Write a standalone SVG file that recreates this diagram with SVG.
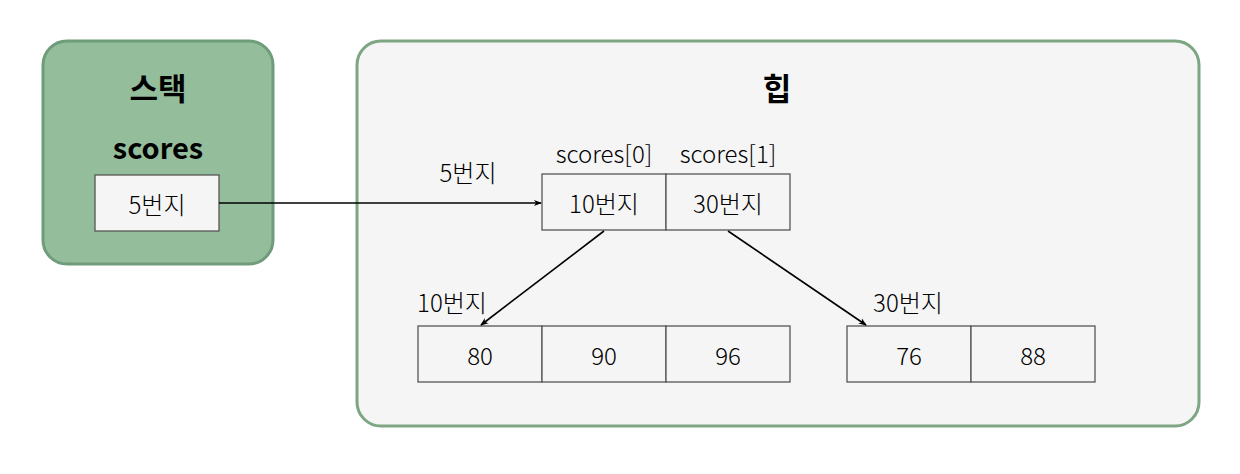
<svg xmlns="http://www.w3.org/2000/svg" width="1240" height="474" viewBox="0 0 1240 474">
<defs>
<style>
.t{font-family:"Noto Sans CJK KR","Noto Sans",sans-serif;font-size:24px;font-weight:300;fill:#000;text-anchor:middle;dominant-baseline:central}
.b{font-weight:bold;font-size:29px}
.h{font-weight:bold;font-size:31px}
.cell{fill:#f5f5f5;stroke:#555;stroke-width:1.3}
.edge{stroke:#000;stroke-width:1.6;fill:none;marker-end:url(#ah)}
</style>
<marker id="ah" viewBox="0 0 10 10" refX="9" refY="5" markerWidth="8" markerHeight="8" orient="auto" markerUnits="userSpaceOnUse">
<path d="M0,1 L10,5 L0,9 L3,5 Z" fill="#000"/>
</marker>
</defs>
<rect width="1240" height="474" fill="#fff"/>
<g id="stack">
<rect x="43" y="41" width="230" height="223" rx="24" fill="#94bd9c" stroke="#6f9c7a" stroke-width="3"/>
<text class="t h" x="158" y="86">스택</text>
<text class="t b" x="158" y="146">scores</text>
</g>
<g id="heap">
<rect x="357" y="41" width="842" height="385" rx="24" fill="#f5f5f5" stroke="#7ea683" stroke-width="3"/>
<text class="t h" x="777" y="86">힙</text>
</g>
<g id="scores-ref">
<rect class="cell" x="95" y="175" width="124" height="56"/>
<text class="t" x="157" y="203">5번지</text>
</g>
<g id="array-refs">
<rect class="cell" x="542" y="174" width="124" height="56"/>
<rect class="cell" x="666" y="174" width="124" height="56"/>
<text class="t" x="604" y="202">10번지</text>
<text class="t" x="728" y="202">30번지</text>
<text class="t" x="604" y="152">scores[0]</text>
<text class="t" x="728" y="152">scores[1]</text>
<text class="t" x="468" y="171">5번지</text>
</g>
<g id="array0">
<rect class="cell" x="418" y="326" width="124" height="56"/>
<rect class="cell" x="542" y="326" width="124" height="56"/>
<rect class="cell" x="666" y="326" width="124" height="56"/>
<text class="t" x="480" y="354">80</text>
<text class="t" x="604" y="354">90</text>
<text class="t" x="728" y="354">96</text>
<text class="t" x="452" y="301">10번지</text>
</g>
<g id="array1">
<rect class="cell" x="847" y="326" width="124" height="56"/>
<rect class="cell" x="971" y="326" width="124" height="56"/>
<text class="t" x="909" y="354">76</text>
<text class="t" x="1033" y="354">88</text>
<text class="t" x="908" y="301">30번지</text>
</g>
<g id="connectors">
<line class="edge" x1="219" y1="203" x2="541" y2="203"/>
<line class="edge" x1="604" y1="231" x2="481" y2="325"/>
<line class="edge" x1="728" y1="231" x2="866" y2="325"/>
</g>
</svg>
